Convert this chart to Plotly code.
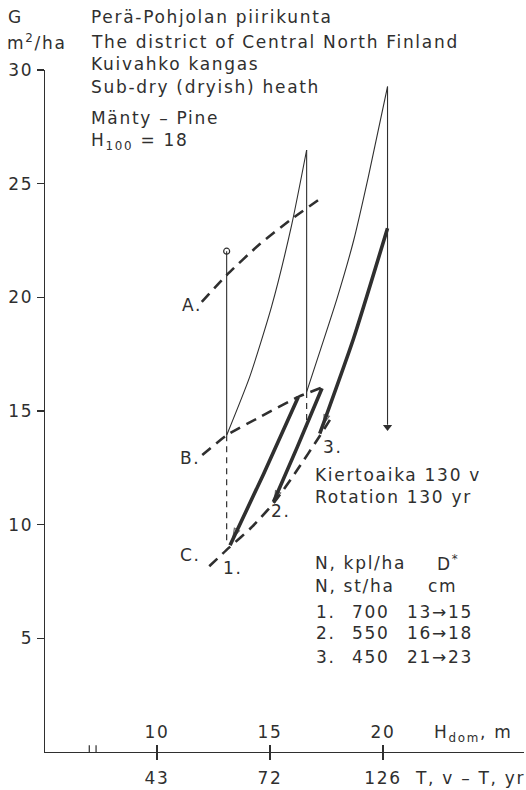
import plotly.graph_objects as go

# ---------------- data (H_dom in m on x, G in m2/ha on y) ----------------
curve_A_h = [11.98, 13.08, 14.5, 15.88, 17.21]
curve_A_g = [19.8, 20.98, 22.3, 23.39, 24.33]

curve_B_h = [12.0, 13.08, 14.56, 16.25, 17.36]
curve_B_g = [13.06, 13.93, 14.74, 15.62, 16.06]

curve_C_h = [12.31, 13.2, 14.2, 15.2, 16.2, 17.2, 17.73]
curve_C_g = [8.17, 9.0, 9.9, 11.0, 12.4, 13.9, 14.74]

grow1_h = [13.08, 14.1, 15.07, 15.96, 16.62]
grow1_g = [13.93, 16.5, 19.6, 23.2, 26.48]
grow2_h = [16.62, 17.2, 17.95, 18.7, 19.35, 20.2]
grow2_g = [15.84, 17.6, 19.9, 22.5, 25.3, 29.27]

cut0_h = [13.08, 13.08]
cut0_g = [13.93, 22.03]
cut1_h = [16.62, 16.62]
cut1_g = [26.48, 15.84]
cut2_h = [20.2, 20.2]
cut2_g = [29.27, 14.4]
drop0_h = [13.08, 13.08]
drop0_g = [13.93, 9.1]
drop1_h = [16.62, 16.62]
drop1_g = [15.84, 14.3]

thick1_h = [13.23, 14.7, 16.25]
thick1_g = [9.09, 12.2, 15.62]
thick2_h = [15.15, 16.2, 17.3]
thick2_g = [11.0, 13.4, 16.0]
thick3_h = [17.2, 18.7, 20.2]
thick3_g = [14.0, 18.2, 23.04]

# arrow heads (pointing down along the heavy lines towards points 1-3)
arrow_from_h = [13.9, 15.7, 17.9]
arrow_from_g = [10.5, 12.2, 15.9]
arrow_to_h = [13.36, 15.2, 17.38]
arrow_to_g = [9.45, 11.1, 14.45]

h_ticks = [10, 15, 20]
h_labels = ["10", "15", "20"]
t_labels = ["43", "72", "126"]
g_ticks = [5, 10, 15, 20, 25, 30]

table_rows = [("1.", "700", "13→15"), ("2.", "550", "16→18"), ("3.", "450", "21→23")]

# ---------------- styling ----------------
INK = "#2f2f2f"
FONT = "DejaVu Sans"
FS = 17
W, H = 526, 790
L, R, T, B = 45, 2, 70, 38
XR = [5.04, 26.24]
YR = [0, 30]

def px(x, y):
    return (x - L) / (W - L - R), (H - B - y) / (H - T - B)

fig = go.Figure()

def line(xs, ys, width=1.2, dash="solid", color=INK, xaxis="x"):
    fig.add_trace(go.Scatter(x=xs, y=ys, mode="lines", xaxis=xaxis,
                             line=dict(color=color, width=width, dash=dash, shape="spline", smoothing=0.6),
                             hoverinfo="skip", showlegend=False, cliponaxis=False))

DASH = "11px,7px"
line(curve_A_h, curve_A_g, 2.6, DASH)
line(curve_B_h, curve_B_g, 2.6, DASH)
line(curve_C_h, curve_C_g, 2.6, DASH)
line(drop0_h, drop0_g, 1.2, "6px,5px")
line(drop1_h, drop1_g, 1.2, "6px,5px")
line(grow1_h, grow1_g, 1.1)
line(grow2_h, grow2_g, 1.1)
line(cut0_h, cut0_g, 1.1)
line(cut1_h, cut1_g, 1.1)
line(cut2_h, cut2_g, 1.1)
line(thick1_h, thick1_g, 3.6)
line(thick2_h, thick2_g, 3.6)
line(thick3_h, thick3_g, 3.6)

for fh, fg, th, tg in zip(arrow_from_h, arrow_from_g, arrow_to_h, arrow_to_g):
    fig.add_trace(go.Scatter(x=[fh, th], y=[fg, tg], mode="markers",
                             marker=dict(symbol="arrow-open", size=[0, 9], color=INK, angleref="previous",
                                         line=dict(width=1.2, color=INK)),
                             hoverinfo="skip", showlegend=False, cliponaxis=False))

fig.add_trace(go.Scatter(x=[cut0_h[1]], y=[cut0_g[1]], mode="markers",
                         marker=dict(symbol="circle-open", size=6, color=INK, line=dict(width=1.2)),
                         hoverinfo="skip", showlegend=False))
# arrow head at the end of the final felling line
fig.add_trace(go.Scatter(x=[cut2_h[1]], y=[cut2_g[1] - 0.1], mode="markers",
                         marker=dict(symbol="triangle-down", size=8, color=INK),
                         hoverinfo="skip", showlegend=False))

# axis break on the x axis
line([7.0, 7.3], [0, 0], 3, "solid", "white", "x2")
line([7.0, 7.0, None, 7.3, 7.3], [-0.3, 0.3, None, -0.3, 0.3], 1.2, "solid", INK, "x2")

fig.update_layout(
    width=W, height=H, margin=dict(l=L, r=R, t=T, b=B, autoexpand=False),
    paper_bgcolor="white", plot_bgcolor="white",
    font=dict(family=FONT, size=FS, color=INK),
    xaxis=dict(range=XR, showgrid=False, zeroline=False, showline=True, linecolor=INK, linewidth=1.3,
               tickvals=h_ticks, ticktext=t_labels, ticks="outside", ticklen=7, tickcolor=INK, tickwidth=1.3,
               tickfont=dict(family=FONT, size=FS, color=INK), ticklabelstandoff=3, layer="below traces",
               automargin=False),
    xaxis2=dict(range=XR, overlaying="x", anchor="y", side="bottom", showgrid=False, zeroline=False, showline=False,
                tickvals=h_ticks, ticktext=h_labels, ticks="inside", ticklen=7, tickcolor=INK, tickwidth=1.3,
                ticklabelposition="inside", tickfont=dict(family=FONT, size=FS, color=INK), ticklabelstandoff=4,
                automargin=False),
    yaxis=dict(range=YR, showgrid=False, zeroline=False, showline=True, linecolor=INK, linewidth=1.3,
               tickvals=g_ticks, ticks="outside", ticklen=7, tickcolor=INK, tickwidth=1.3,
               tickfont=dict(family=FONT, size=FS, color=INK), automargin=False),
)

def text(x, y, s, anchor="left"):
    xp, yp = px(x, y)
    fig.add_annotation(x=xp, y=yp, xref="paper", yref="paper", text=s, showarrow=False, xanchor=anchor, yanchor="middle",
                       font=dict(family=FONT, size=FS, color=INK), align="left")

text(6, 17, "G")
text(5, 42, "m<sup>2</sup>/ha")
title_lines = ["Perä-Pohjolan piirikunta", "The district of Central North Finland", "Kuivahko kangas",
               "Sub-dry (dryish) heath", "Mänty – Pine", "H<sub>100</sub> = 18"]
for s, yy in zip(title_lines, [17, 42, 64, 87, 118, 141]):
    text(89, yy, s)

text(180, 305, "A.")
text(178, 458, "B.")
text(178, 555, "C.")
text(221, 568, "1.")
text(269, 511, "2.")
text(321, 447, "3.")

text(313, 475, "Kiertoaika 130 v")
text(313, 497, "Rotation 130 yr")
text(313, 563, "N, kpl/ha")
text(435, 563, "D<sup>*</sup>")
text(313, 586, "N, st/ha")
text(426, 586, "cm")
for (a, b, c), yy in zip(table_rows, [612, 633, 657]):
    text(314, yy, a)
    text(350, yy, b)
    text(405, yy, c)

text(432, 733, "H<sub>dom</sub>, m")
text(413, 778, "T, v – T, yr")

post = ("document.body.style.margin='0';"
        "document.querySelectorAll('.annotation-text, .xtick text, .x2tick text, .ytick text')"
        ".forEach(function(t){t.style.letterSpacing='1.7px';});")
fig.write_html("out.html", post_script=post, config={"displayModeBar": False, "staticPlot": True})
